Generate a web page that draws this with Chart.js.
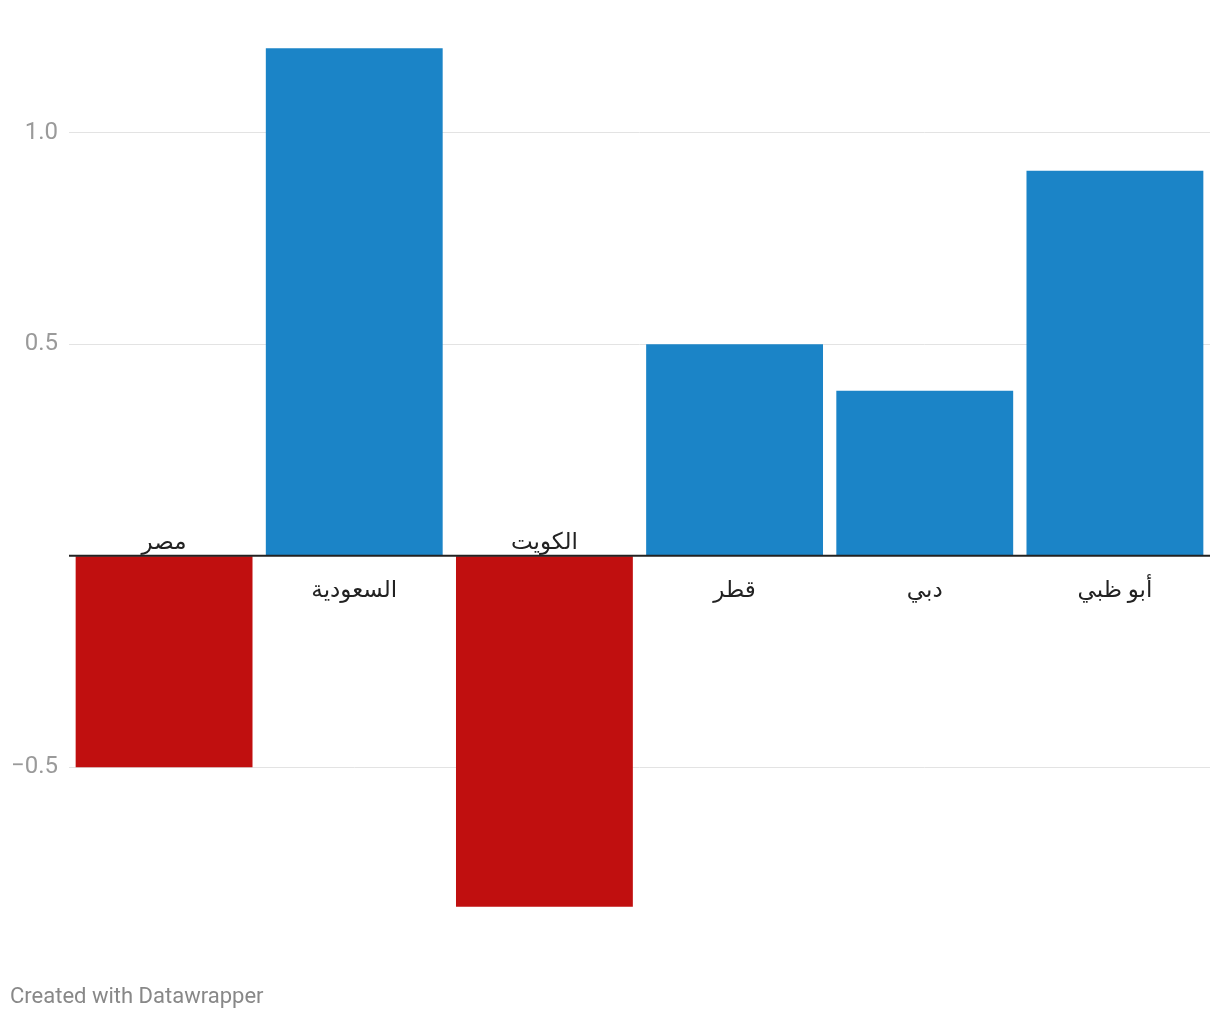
<!DOCTYPE html>
<html lang="ar">
<head>
<meta charset="utf-8">
<script src="https://cdn.jsdelivr.net/npm/chart.js@4"></script>
<style>
    body { margin: 0; background: #fff; }
    #wrap { position: relative; width: 1220px; height: 1020px; }
    #footer {
        position: absolute; left: 10px; top: 983px;
        font: 22px Roboto, sans-serif; color: #888;
    }
</style>
</head>
<body>
<div id="wrap">
    <canvas id="chart" width="1220" height="1020"></canvas>
    <div id="footer">Created with Datawrapper</div>
</div>
<script>
const categories = ['مصر', 'السعودية', 'الكويت', 'قطر', 'دبي', 'أبو ظبي'];
const values = [-0.5, 1.2, -0.83, 0.5, 0.39, 0.91];
const tickValues = [-0.5, 0, 0.5, 1.0];

const blue = '#1b84c7';
const red = '#c00f0f';

// category labels sit on the other side of the zero line
const labelPlugin = {
    id: 'labels',
    afterDatasetsDraw(chart) {
        const ctx = chart.ctx;
        const x = chart.scales.x;
        const y = chart.scales.y;
        const zero = y.getPixelForValue(0);

        ctx.save();
        ctx.strokeStyle = '#222';
        ctx.lineWidth = 2;
        ctx.beginPath();
        ctx.moveTo(chart.chartArea.left, zero);
        ctx.lineTo(chart.chartArea.right, zero);
        ctx.stroke();

        ctx.fillStyle = '#222';
        ctx.font = '23px Roboto, "Noto Sans", "DejaVu Sans", sans-serif';
        ctx.textAlign = 'center';
        ctx.textBaseline = 'middle';
        categories.forEach((name, i) => {
            const cx = x.getPixelForValue(i);
            const cy = values[i] < 0 ? zero - 12 : zero + 36;
            ctx.fillText(name, cx, cy);
        });
        ctx.restore();
    }
};

new Chart(document.getElementById('chart'), {
    type: 'bar',
    data: {
        labels: categories,
        datasets: [{
            data: values,
            backgroundColor: values.map(v => v < 0 ? red : blue),
            borderWidth: 0,
            barPercentage: 0.93,
            categoryPercentage: 1
        }]
    },
    options: {
        responsive: false,
        animation: false,
        layout: { padding: { top: 27, right: 10, bottom: 71, left: 0 } },
        plugins: {
            legend: { display: false },
            tooltip: { enabled: false }
        },
        scales: {
            x: { display: false },
            y: {
                min: -0.93,
                max: 1.25,
                border: { display: false },
                afterFit: scale => { scale.width = 69; },
                afterBuildTicks: scale => {
                    scale.ticks = tickValues.map(v => ({ value: v }));
                },
                grid: {
                    drawTicks: false,
                    color: ctx => ctx.tick && ctx.tick.value === 0 ? 'rgba(0,0,0,0)' : '#e3e3e3',
                    lineWidth: 1
                },
                ticks: {
                    padding: 11,
                    color: '#9a9a9a',
                    font: { family: 'Roboto', size: 24 },
                    callback: v => v === 0 ? '' : (v < 0 ? '\u2212' : '') + Math.abs(v).toFixed(1)
                }
            }
        }
    },
    plugins: [labelPlugin]
});
</script>
</body>
</html>
